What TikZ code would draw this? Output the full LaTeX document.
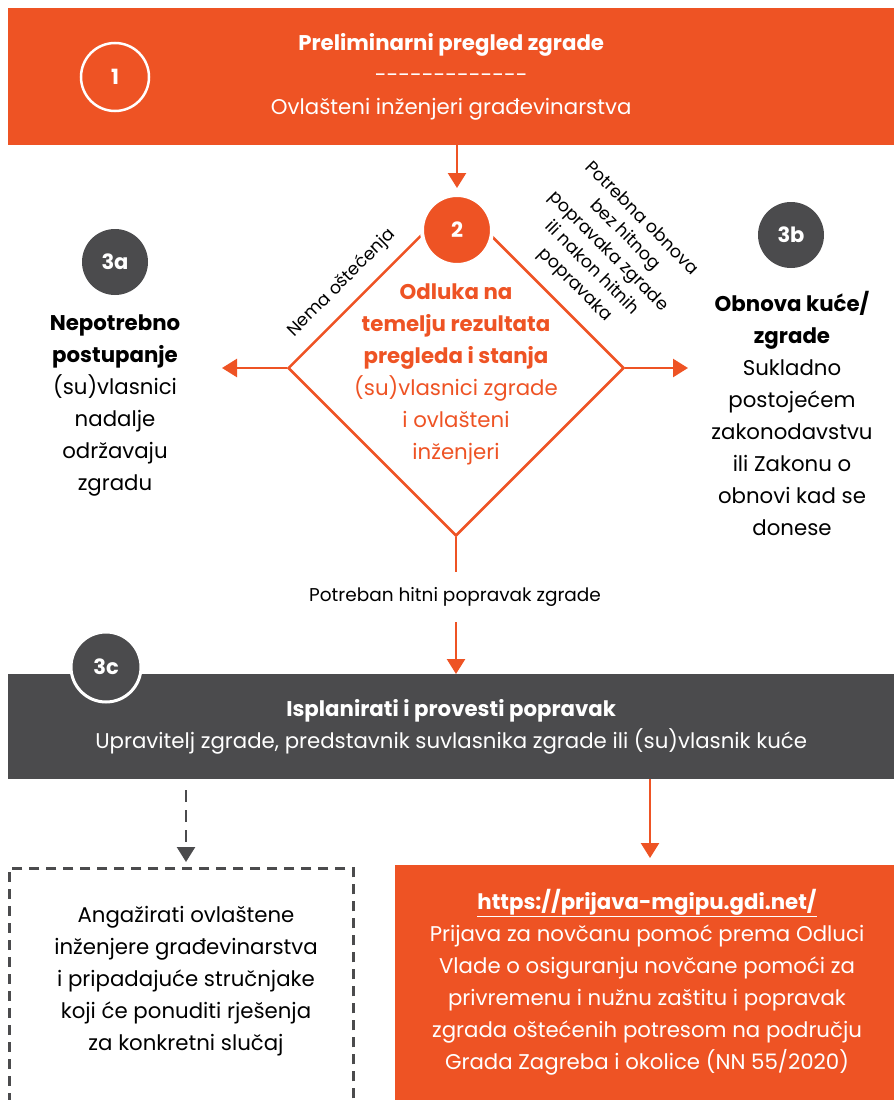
\documentclass[tikz,border=0pt]{standalone}
\usepackage{fontspec}
\setmainfont{Poppins}
\usetikzlibrary{arrows.meta,shapes.geometric}
\definecolor{orng}{RGB}{238,83,36}
\definecolor{dgray}{RGB}{75,75,77}
\begin{document}
\begin{tikzpicture}[x=1pt,y=-1pt,
  txt/.style={align=center, text=black, font=\fontsize{21.3}{32}\selectfont, inner sep=0pt},
  small/.style={align=center, text=black, font=\fontsize{17.5}{23.5}\selectfont, inner sep=0pt},
  arr/.style={draw=orng, line width=2.5pt, -{Triangle[width=18pt,length=15pt]}},
  garr/.style={draw=dgray, line width=2.5pt, dash pattern=on 12pt off 8pt, -{Triangle[width=18pt,length=15pt]}},
  num/.style={circle, minimum size=66pt, inner sep=0pt, text=white, font=\bfseries\fontsize{21}{24}\selectfont},
  band/.style={anchor=north west, inner sep=0pt, align=center, text=white, font=\fontsize{21.3}{32}\selectfont}
]
\useasboundingbox (0,0) rectangle (894,1100);
% step 1
\node[band, fill=orng, minimum width=886pt, minimum height=137pt] (top) at (8,8)
  {\textbf{Preliminarni pregled zgrade}\\-{}-{}-{}-{}-{}-{}-{}-{}-{}-{}-{}-{}-\\Ovlašteni inženjeri građevinarstva};
\node[num, draw=white, line width=2.5pt, minimum size=68pt] (c1) at (115,77) {1};
% decision diamond
\node[diamond, aspect=1, draw=orng, line width=2.5pt, minimum width=336pt, minimum height=336pt, inner sep=0pt] (dia) at (456,368) {};
\node[num, fill=orng, draw=white, line width=4pt, minimum size=70pt] (c2) at (457,230) {2};
\draw[arr] (top.south -| c2) -- ([yshift=5pt]c2.north);
\node[txt, text=orng] (dtxt) at (456,374)
  {\textbf{Odluka na}\\\textbf{temelju rezultata}\\\textbf{pregleda i stanja}\\(su)vlasnici zgrade\\i ovlašteni\\inženjeri};
\node[small, rotate=45] (lnema) at (342,283) {Nema oštećenja};
\node[small, rotate=-45] (lobn) at (608,252)
  {Potrebna obnova\\bez hitnog\\popravaka zgrade\\ili nakon hitnih\\popravaka};
% 3a
\node[num, fill=dgray] (c3a) at (115,262) {3a};
\node[txt] (t3a) at (115,405)
  {\textbf{Nepotrebno}\\\textbf{postupanje}\\(su)vlasnici\\nadalje\\održavaju\\zgradu};
\coordinate (la) at (222,368);
\draw[arr] (dia.west) -- (la);
% 3b
\node[num, fill=dgray] (c3b) at (791,235) {3b};
\node[txt] (t3b) at (792,413)
  {\textbf{Obnova kuće/}\\\textbf{zgrade}\\Sukladno\\postojećem\\zakonodavstvu\\ili Zakonu o\\obnovi kad se\\donese};
\coordinate (ra) at (688,368);
\draw[arr] (dia.east) -- (ra);
% 3c
\node[small, minimum height=50pt, font=\fontsize{18.5}{22}\selectfont] (lhit) at (455,597) {Potreban hitni popravak zgrade};
\node[band, fill=dgray, minimum width=886pt, minimum height=105pt] (box3c) at (8,674)
  {\textbf{Isplanirati i provesti popravak}\\Upravitelj zgrade, predstavnik suvlasnika zgrade ili (su)vlasnik kuće};
\node[num, fill=dgray, draw=white, line width=3pt, minimum size=70pt] (c3c) at (106,667) {3c};
\draw[draw=orng, line width=2.5pt] (dia.south) -- (lhit.north -| dia.south);
\draw[arr] (lhit.south -| dia.south) -- (box3c.north -| dia.south);
% bottom boxes
\node[draw=dgray, line width=2.5pt, dash pattern=on 10pt off 7pt, anchor=north west, minimum width=344pt, minimum height=260pt, inner sep=0pt] (dbox) at (8,867) {};
\node[txt] (dtx) at (186,981)
  {Angažirati ovlaštene\\inženjere građevinarstva\\i pripadajuće stručnjake\\koji će ponuditi rješenja\\za konkretni slučaj};
\node[band, fill=orng, minimum width=499pt, minimum height=235pt] (obox) at (395,865) {};
\node[txt, text=white] (otx) at (647,982)
  {\textbf{\underline{https://prijava-mgipu.gdi.net/}}\\Prijava za novčanu pomoć prema Odluci\\Vlade o osiguranju novčane pomoći za\\privremenu i nužnu zaštitu i popravak\\zgrada oštećenih potresom na području\\Grada Zagreba i okolice (NN 55/2020)};
\draw[garr] ([yshift=-11pt]box3c.south -| dtx) -- ([yshift=5pt]dbox.north -| dtx);
\draw[arr] (box3c.south -| 650,0) -- ([yshift=7pt]obox.north -| 650,0);
\end{tikzpicture}
\end{document}
